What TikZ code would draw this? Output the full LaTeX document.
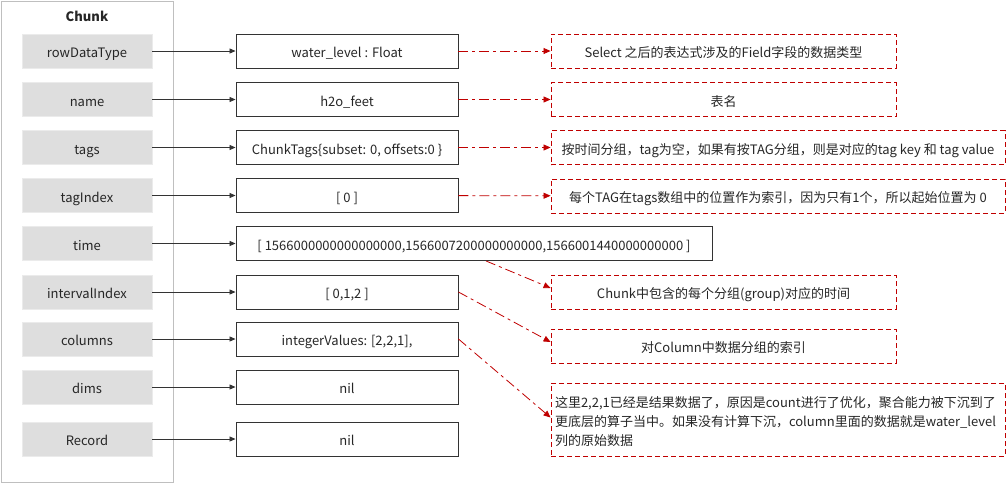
\documentclass[tikz,border=0pt]{standalone}
\usepackage{fontspec}
\setmainfont{Noto Sans CJK SC}
\usetikzlibrary{arrows.meta}
\definecolor{linkred}{HTML}{C00000}
\definecolor{fieldgray}{HTML}{DEDEDE}
\definecolor{framegray}{HTML}{BFBFBF}
\definecolor{textdark}{HTML}{262626}

\begin{document}
\begin{tikzpicture}[
      x=1pt, y=1pt,
      font=\fontsize{13}{19}\selectfont, text=textdark,
      fld/.style={fill=fieldgray, draw=black!8, minimum width=130pt, minimum height=34pt, inner sep=0pt, text height=13.4pt, text depth=0pt},
      val/.style={draw=black!80, line width=0.9pt, minimum height=34pt, inner sep=0pt, text height=13.4pt, text depth=0pt},
      note/.style={draw=linkred, dash pattern=on 5pt off 3pt, line width=0.9pt, minimum height=34pt, inner sep=3pt, text height=13.4pt, text depth=0pt},
      ptr/.style={-{Triangle[length=6pt, width=5pt]}, draw=black!80, line width=0.8pt},
      cmt/.style={-{Triangle[length=7pt, width=6pt]}, draw=linkred, line width=0.8pt, dash pattern=on 10pt off 4pt on 3pt off 4pt}]
    \useasboundingbox (0,0) rectangle (1007,-483);
    % the Chunk struct
    \node[draw=framegray, line width=0.8pt, minimum width=172pt, minimum height=481pt, inner sep=0pt] (chunk) at (87,-241.5) {};
    \node[font=\fontsize{13}{16}\selectfont\bfseries] (title) at (87,-16) {Chunk};
    \foreach \i/\y/\cx/\w/\f/\v in {
        1/51/347/222/rowDataType/{water\_level : Float},
        2/99.5/347/222/name/{h2o\_feet},
        3/147.5/347/222/tags/{ChunkTags\{subset: 0, offsets:0 \}},
        4/195.5/347/222/tagIndex/{[ 0 ]},
        5/243.5/474/476/time/{[ 1566000000000000000,1566007200000000000,1566001440000000000 ]},
        6/292/347/222/intervalIndex/{[ 0,1,2 ]},
        7/339/347/222/columns/{integerValues: [2,2,1],},
        8/387/347/222/dims/{nil},
        9/439/347/222/Record/{nil}} {
      \node[fld] (f\i) at (87,-\y) {\f};
      \node[val, minimum width=\w pt] (v\i) at (\cx,-\y) {\v};
      \draw[ptr] (f\i) -- (v\i);
    }
    % notes
    \node[note, minimum width=345pt] (n1) at (723.5,-51) {Select 之后的表达式涉及的Field字段的数据类型};
    \node[note, minimum width=345pt] (n2) at (723.5,-99.5) {表名};
    \node[note, minimum width=454pt] (n3) at (778,-147.5) {按时间分组，tag为空，如果有按TAG分组，则是对应的tag key 和 tag value};
    \node[note, minimum width=454pt] (n4) at (778,-196) {每个TAG在tags数组中的位置作为索引，因为只有1个，所以起始位置为 0};
    \node[note, minimum width=345pt] (n5) at (723.5,-292) {Chunk中包含的每个分组(group)对应的时间};
    \node[note, minimum width=345pt] (n6) at (723.5,-346) {对Column中数据分组的索引};
    \node[note, minimum width=454pt, minimum height=73pt, text width=446pt, text height=, text depth=, align=left] (n7) at (778,-419.5)
      {\rule{0pt}{16pt}这里2,2,1已经是结果数据了，原因是count进行了优化，聚合能力被下沉到了\\更底层的算子当中。如果没有计算下沉，column里面的数据就是water\_level\\列的原始数据};
    \foreach \i in {1,...,4}
      \draw[cmt] (v\i) -- (n\i);
    \draw[cmt] ([xshift=12pt]v5.south) -- ([yshift=4pt]n5.west);
    \draw[cmt] (v6.east) -- ([yshift=4pt]n6.west);
    \draw[cmt] (v7.east) -- ([yshift=2pt]n7.west);
  \end{tikzpicture}
\end{document}
